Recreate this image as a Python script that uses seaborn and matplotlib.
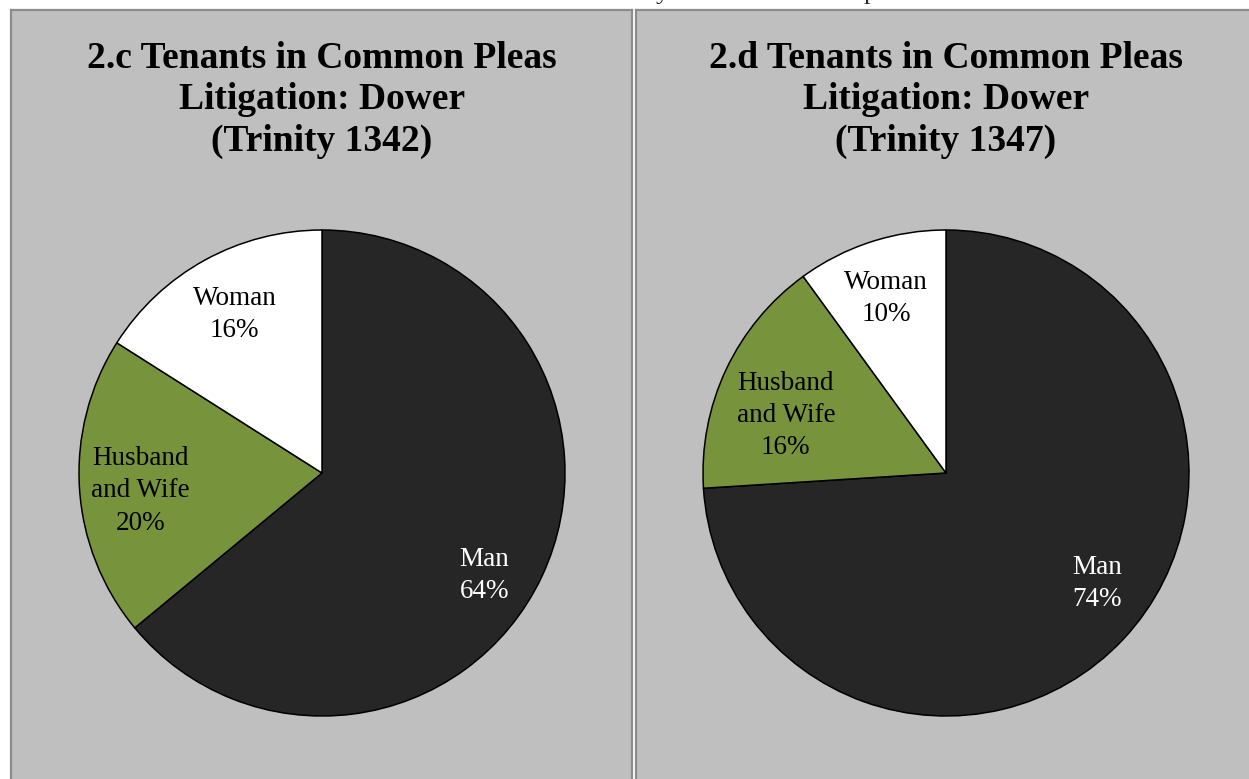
import numpy as np
import matplotlib
matplotlib.use("Agg")
import matplotlib.pyplot as plt
import seaborn as sns

# ---- data ----
categories = ["Man", "Husband\nand Wife", "Woman"]
values_1342 = [64, 20, 16]
values_1347 = [74, 16, 10]
titles = ["2.c Tenants in Common Pleas\nLitigation: Dower\n(Trinity 1342)",
          "2.d Tenants in Common Pleas\nLitigation: Dower\n(Trinity 1347)"]
colors = ["#262626", "#77933C", "#FFFFFF"]
label_colors = ["white", "black", "black"]

sns.set_theme(style="white")
plt.rcParams["font.family"] = ["Liberation Serif", "DejaVu Serif"]

W, H = 1249, 779
fig = plt.figure(figsize=(W / 100, H / 100), dpi=100, facecolor="white")

# clipped text fragments at top of page
fig.text(662 / W, 1 + 1 / H, "y", fontsize=19, ha="center", va="baseline")
fig.text(870 / W, 1 + 1 / H, "p", fontsize=19, ha="center", va="baseline")

panels = [
    dict(x0=11, x1=632, cx=322, vals=values_1342, title=titles[0],
         dist=[0.79, 0.75, 0.745], shift=[-7, 2, 0], right_spine=True),
    dict(x0=636, x1=1252, cx=946, vals=values_1347, title=titles[1],
         dist=[0.77, 0.70, 0.76], shift=[7, 5.5, 1], right_spine=False),
]
top = 10
cy_px = 473
R = 243

for p in panels:
    ax = fig.add_axes([p["x0"] / W, 0, (p["x1"] - p["x0"]) / W, (H - top) / H])
    ax.set_facecolor("#BFBFBF")
    cy = H - cy_px
    wedges, _ = ax.pie(p["vals"], colors=colors, startangle=90, counterclock=False,
                       radius=R, center=(p["cx"], cy), frame=True,
                       wedgeprops=dict(edgecolor="black", linewidth=1.1))
    ax.set_xlim(p["x0"], p["x1"])
    ax.set_ylim(0, H - top)
    ax.set_aspect("auto")
    ax.set_xticks([])
    ax.set_yticks([])
    for name, s in ax.spines.items():
        s.set_color("#8C8C8C")
        s.set_linewidth(1.6)
    ax.spines["bottom"].set_visible(False)
    if not p["right_spine"]:
        ax.spines["right"].set_visible(False)
    for w, cat, v, d, sh, lc in zip(wedges, categories, p["vals"], p["dist"], p["shift"], label_colors):
        ang = np.deg2rad((w.theta1 + w.theta2) / 2 + sh)
        tx = p["cx"] + R * d * np.cos(ang)
        ty = cy + R * d * np.sin(ang)
        ax.text(tx, ty, f"{cat}\n{v}%", ha="center", va="center", fontsize=19.5,
                color=lc, linespacing=1.38)
    ax.text(p["cx"], H - 100, p["title"], ha="center", va="center", fontsize=27,
            fontweight="bold", linespacing=1.22, color="black")

fig.savefig("out.png", dpi=100, facecolor="white")
